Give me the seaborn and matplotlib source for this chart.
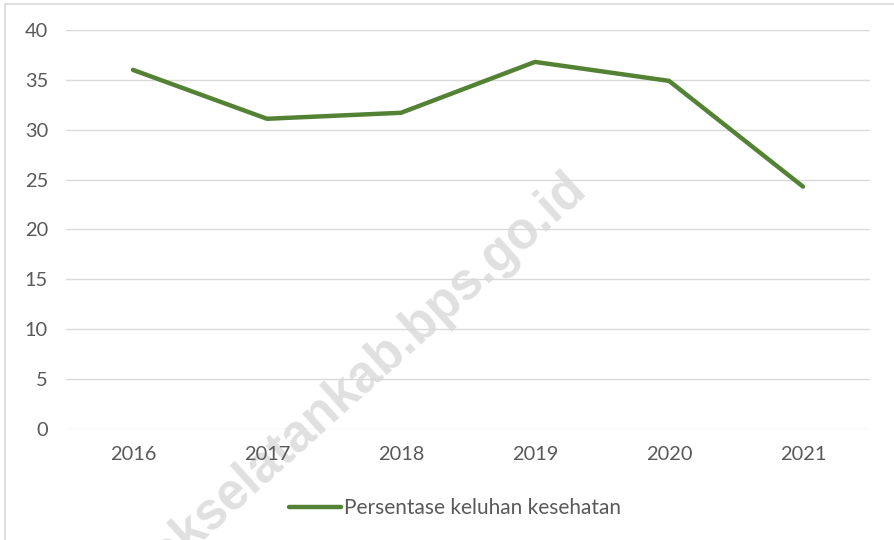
import pandas as pd
import seaborn as sns
import matplotlib.pyplot as plt
from matplotlib.patches import Rectangle

years = [2016, 2017, 2018, 2019, 2020, 2021]
keluhan = [36.0, 31.1, 31.7, 36.8, 34.9, 24.3]
y_ticks = [0, 5, 10, 15, 20, 25, 30, 35, 40]
series_name = "Persentase keluhan kesehatan"

df = pd.DataFrame({"tahun": years, "nilai": keluhan, "seri": series_name})

sns.set_theme(style="white")
plt.rcParams['font.family'] = ['Lato', 'DejaVu Sans']

fig = plt.figure(figsize=(8.94, 5.4), dpi=100)
ax = fig.add_axes([66 / 894, 1 - 429 / 540, 804 / 894, 399 / 540])

# chart border (left and top visible, rest cropped off)
fig.patches.append(Rectangle((5 / 894, -0.1), 1.2, 1 - 4 / 540 + 0.1,
                             transform=fig.transFigure, fill=False,
                             edgecolor='#d9d9d9', linewidth=1.2, zorder=-2))

# watermark, anchored at the end of its baseline, behind the chart
fig.text(588 / 894, 1 - 192 / 540, "okselatankab.bps.go.id", rotation=42,
         rotation_mode='anchor', ha='right', va='baseline',
         fontsize=37, fontweight='bold', family='Liberation Sans',
         color='#e0e0e0', zorder=-1)

sns.lineplot(data=df, x="tahun", y="nilai", hue="seri", palette=['#548235'],
             linewidth=3.2, solid_capstyle='round', solid_joinstyle='round',
             ax=ax, zorder=3)

ax.set_xlim(2015.5, 2021.5)
ax.set_ylim(0, 40)
ax.set_yticks(y_ticks)
ax.set_xticks(years)
ax.set_xticklabels([str(y) for y in years])
ax.yaxis.grid(True, color='#d9d9d9', linewidth=1)
ax.xaxis.grid(False)
ax.set_axisbelow(True)
for s in ax.spines.values():
    s.set_visible(False)
ax.patch.set_alpha(0)
ax.tick_params(axis='both', length=0, labelsize=14.4, labelcolor='#595959')
ax.tick_params(axis='x', pad=12)
ax.tick_params(axis='y', pad=13)
ax.set_xlabel("")
ax.set_ylabel("")

leg = ax.legend(loc='center', bbox_to_anchor=(455 / 894, 1 - 508 / 540),
                bbox_transform=fig.transFigure, frameon=False, fontsize=15,
                handlelength=2.5, handletextpad=0.15)
for t in leg.get_texts():
    t.set_color('#595959')

fig.savefig("out.png", dpi=100)
